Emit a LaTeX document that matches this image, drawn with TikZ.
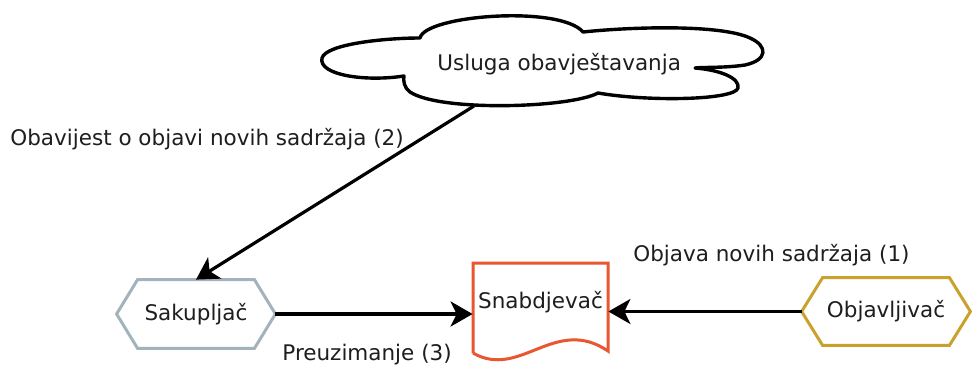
\documentclass[tikz,border=0pt]{standalone}
\usepackage{fontspec}
\setmainfont{DejaVu Sans}
\usetikzlibrary{arrows.meta}
\definecolor{ink}{HTML}{1E1E1E}
\definecolor{sakline}{HTML}{A3B3BD}
\definecolor{objline}{HTML}{C9A22C}
\definecolor{snabline}{HTML}{E8572F}
\begin{document}
\begin{tikzpicture}[x=0.5pt,y=-0.5pt,
  every node/.style={font=\fontsize{10.75}{13}\selectfont, text=ink},
  tag/.style={anchor=base west, inner sep=0pt},
  actor/.style={inner sep=0pt},
  flow/.style={line width=1.6pt, -{Stealth[length=11pt,width=12.5pt,inset=3pt]}},
  outline/.style={line width=1.5pt},
]
\useasboundingbox (0,0) rectangle (972,364);
\fill[white] (0,0) rectangle (972,364);

% notification service cloud
\draw[outline, line width=1.7pt, line join=round, fill=white]
  (322,58) .. controls (326,44) and (385,38) .. (420,38)
  .. controls (425,15) and (560,5) .. (583,32)
  .. controls (630,27) and (720,24) .. (750,38)
  .. controls (768,46) and (768,60) .. (745,65)
  .. controls (725,68) and (705,67) .. (695,68)
  .. controls (720,70) and (740,78) .. (738,88)
  .. controls (735,100) and (650,102) .. (598,93)
  .. controls (570,108) and (440,112) .. (410,92)
  .. controls (404,88) and (403,80) .. (404,76)
  .. controls (365,82) and (318,75) .. (322,58) -- cycle;
\node[tag] (svc) at (437,70) {Usluga obavještavanja};
\coordinate (cloudbot) at (474,106);

% collector
\node[actor, minimum width=79pt, minimum height=34pt] (sak) at (196,314) {Sakupljač};
\draw[outline, sakline] (sak.west) -- ([xshift=10.5pt]sak.north west)
  -- ([xshift=-10.5pt]sak.north east) -- (sak.east)
  -- ([xshift=-10.5pt]sak.south east) -- ([xshift=10.5pt]sak.south west) -- cycle;

% publisher
\node[actor, minimum width=84pt, minimum height=33.5pt] (obj) at (886,311.5) {Objavljivač};
\draw[outline, objline] (obj.west) -- ([xshift=10.5pt]obj.north west)
  -- ([xshift=-10.5pt]obj.north east) -- (obj.east)
  -- ([xshift=-10.5pt]obj.south east) -- ([xshift=10.5pt]obj.south west) -- cycle;

% supplier document
\node[actor, minimum width=67.5pt, minimum height=20pt] (snab) at (540.5,302) {Snabdjevač};
\draw[outline, snabline] (473,353) -- (473,263) -- (608,263) -- (608,351)
  .. controls (555,315) and (520,380) .. (473,353);

% flows
\draw[flow] (cloudbot) -- (sak.north);
\draw[flow] (sak.east) -- (sak.east -| snab.west);
\draw[flow] (obj.west) -- (obj.west -| snab.east);

% flow labels
\node[tag] (l2) at (10,145) {Obavijest o objavi novih sadržaja (2)};
\node[tag] (l1) at (633,261) {Objava novih sadržaja (1)};
\node[tag] (l3) at (282,360) {Preuzimanje (3)};
\end{tikzpicture}
\end{document}
